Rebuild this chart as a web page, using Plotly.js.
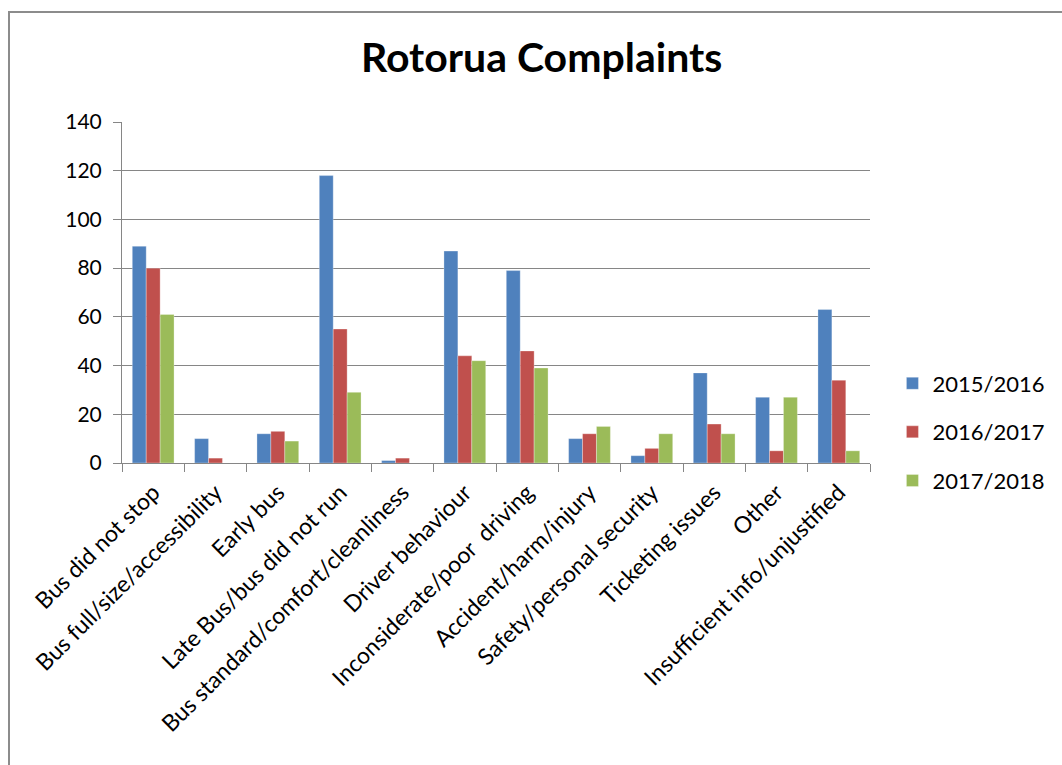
<!DOCTYPE html>
<html>
<head>
<meta charset="utf-8">
<script src="https://cdn.plot.ly/plotly-3.0.1.min.js"></script>
<style>
  html, body { margin: 0; padding: 0; background: #ffffff; }
  #wrap { position: relative; width: 1062px; height: 765px; overflow: hidden; }
  #frame { position: absolute; left: 8px; top: 11px; width: 1100px; height: 800px;
           border-left: 2px solid #8c8c8c; border-top: 2px solid #8c8c8c; pointer-events: none; z-index: 5; }
  #chart { position: absolute; left: 0; top: 0; width: 1062px; height: 765px; }
</style>
</head>
<body>
<div id="wrap">
  <div id="chart"></div>
  <div id="frame"></div>
</div>
<script>
const categories = [
  "Bus did not stop",
  "Bus full/size/accessibility",
  "Early bus",
  "Late Bus/bus did not run",
  "Bus standard/comfort/cleanliness",
  "Driver behaviour",
  "Inconsiderate/poor  driving",
  "Accident/harm/injury",
  "Safety/personal security",
  "Ticketing issues",
  "Other",
  "Insufficient info/unjustified"
];
const seriesNames = ["2015/2016", "2016/2017", "2017/2018"];
const values2015 = [89, 10, 12, 118, 1, 87, 79, 10, 3, 37, 27, 63];
const values2016 = [80, 2, 13, 55, 2, 44, 46, 12, 6, 16, 5, 34];
const values2017 = [61, 0, 9, 29, 0, 42, 39, 15, 12, 12, 27, 5];
const yTicks = [0, 20, 40, 60, 80, 100, 120, 140];

const colors = ["#4F81BD", "#C0504D", "#9BBB59"];
const allValues = [values2015, values2016, values2017];
const FONT = "Lato, 'Open Sans', sans-serif";

const traces = allValues.map((vals, i) => ({
  type: "bar",
  name: seriesNames[i],
  x: categories,
  y: vals,
  legendgroup: "g" + i,
  marker: { color: colors[i], line: { color: "rgba(255,255,255,0.5)", width: 0.6 } },
  hoverinfo: "x+y+name"
}));

const layout = {
  width: 1062,
  height: 765,
  paper_bgcolor: "#ffffff",
  plot_bgcolor: "#ffffff",
  margin: { l: 122, r: 190, t: 122, b: 302 },
  title: {
    text: "<b>Rotorua Complaints</b>",
    font: { family: FONT, size: 41, color: "#000000" },
    x: 0.51, xanchor: "center",
    y: 0.925, yanchor: "middle"
  },
  barmode: "group",
  bargap: 0.33,
  bargroupgap: 0,
  showlegend: true,
  legend: {
    x: 1.03, xanchor: "left",
    y: 0.091, yanchor: "middle",
    traceorder: "grouped",
    tracegroupgap: 17,
    entrywidth: 95,
    entrywidthmode: "pixels",
    font: { family: FONT, size: 22, color: "#000000" },
    bgcolor: "rgba(0,0,0,0)"
  },
  xaxis: {
    type: "category",
    showgrid: false,
    showline: true,
    linecolor: "#868686",
    linewidth: 1,
    ticks: "outside",
    tickson: "boundaries",
    ticklen: 8,
    tickcolor: "#868686",
    tickangle: -45,
    ticklabelstandoff: 6,
    tickfont: { family: FONT, size: 23, color: "#000000" },
    automargin: false
  },
  yaxis: {
    range: [0, 140],
    tickvals: yTicks,
    ticktext: yTicks.map(String),
    showgrid: true,
    gridcolor: "#868686",
    gridwidth: 1,
    showline: true,
    linecolor: "#868686",
    linewidth: 1,
    ticks: "outside",
    ticklen: 8,
    tickcolor: "#868686",
    ticklabelstandoff: 7,
    tickfont: { family: FONT, size: 21, color: "#000000" },
    zeroline: false,
    automargin: false
  }
};

Plotly.newPlot("chart", traces, layout, { displayModeBar: false, staticPlot: true });
</script>
</body>
</html>
